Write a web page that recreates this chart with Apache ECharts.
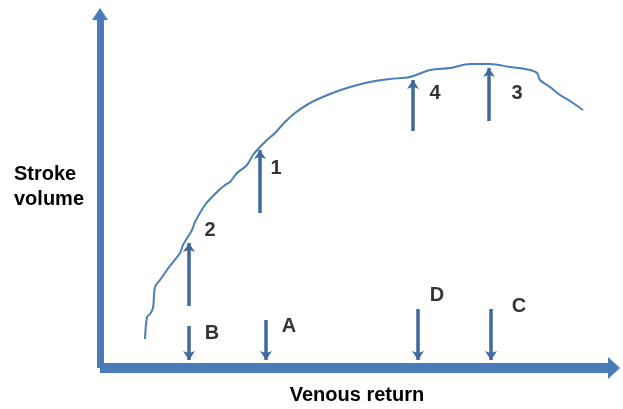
<!DOCTYPE html>
<html>
<head>
<meta charset="utf-8">
<script src="https://cdn.jsdelivr.net/npm/echarts@6/dist/echarts.min.js"></script>
<style>
  html, body { margin: 0; padding: 0; background: #fff; }
  #main { width: 623px; height: 409px; }
</style>
</head>
<body>
<div id="main"></div>
<script>
// curve points (x = venous return, y = stroke volume)
var curveX = [45, 47, 50, 53, 55, 60, 67, 69, 80, 83, 92, 95, 105, 115, 125, 130, 137, 147, 153, 160, 167,
  175, 185, 195, 210, 230, 250, 270, 290, 310, 330, 350, 370, 390, 410, 430, 437, 440, 447, 450, 460, 470, 483]
var curveY = [29, 51, 54, 60, 81, 88, 98, 101, 115, 123, 138, 146, 163, 174, 183, 186, 195, 203, 213, 221, 228,
  235, 246, 255, 265, 274, 281, 286, 289, 291, 298, 300, 304, 304, 301, 298, 295, 288, 283, 281, 273, 267, 258]

// vertical arrows: x, from y, to y
var arrowX = [89, 160, 313, 389, 89, 166, 318, 391]
var arrowFrom = [62, 155, 237, 247, 42, 48, 59, 59]
var arrowTo = [125, 218, 288, 300, 8, 8, 8, 8]

// label marks
var labelText = ['2', 'B', '1', '4', '3', 'D', 'C', 'A']
var labelX = [110, 112, 176, 335, 417, 337, 419, 189]
var labelY = [138, 35, 200, 275, 275, 73, 62, 42]

var chart = echarts.init(document.getElementById('main'))

var font = "'Liberation Sans', Arial, sans-serif"
var axisBlue = '#4a7cba'
var arrowBlue = '#41689c'

chart.setOption({
  backgroundColor: '#ffffff',
  animation: false,
  grid: {
    left: 100,
    right: 9,
    top: 14,
    bottom: 41,
    outerBoundsMode: 'none'
  },
  xAxis: {
    type: 'value',
    min: 0,
    max: 514,
    name: 'Venous return',
    nameLocation: 'middle',
    nameGap: 17,
    nameTextStyle: { fontFamily: font, fontWeight: 'bold', fontSize: 20, color: '#000' },
    axisLine: {
      lineStyle: { color: axisBlue, width: 10, cap: 'butt' },
      symbol: ['none', 'path://M11,0 L22,12 L0,12 Z'],
      symbolSize: [22, 12]
    },
    axisTick: { show: false },
    axisLabel: { show: false },
    splitLine: { show: false }
  },
  yAxis: {
    type: 'value',
    min: 0,
    max: 354,
    axisLine: {
      lineStyle: { color: axisBlue, width: 7, cap: 'butt' },
      symbol: ['none', 'path://M8,0 L16,12 L0,12 Z'],
      symbolSize: [16, 12]
    },
    axisTick: { show: false },
    axisLabel: { show: false },
    splitLine: { show: false }
  },
  graphic: [
    {
      type: 'text',
      left: 14,
      top: 162,
      style: {
        text: 'Stroke\nvolume',
        font: 'bold 20px ' + font,
        lineHeight: 25,
        fill: '#000'
      }
    }
  ],
  series: [
    {
      type: 'line',
      data: curveX.map(function (x, i) { return [x, curveY[i]] }),
      smooth: 0.3,
      showSymbol: false,
      lineStyle: { color: '#4a7ebb', width: 2 }
    },
    {
      type: 'lines',
      coordinateSystem: 'cartesian2d',
      symbol: ['none', 'arrow'],
      symbolSize: 9,
      lineStyle: { color: arrowBlue, width: 3.5, opacity: 1 },
      data: arrowX.map(function (x, i) {
        return { coords: [[x, arrowFrom[i]], [x, arrowTo[i]]] }
      })
    },
    {
      type: 'scatter',
      symbolSize: 1,
      itemStyle: { color: 'rgba(0,0,0,0)' },
      label: {
        show: true,
        position: 'inside',
        formatter: function (p) { return p.value[2] },
        fontFamily: font,
        fontWeight: 'bold',
        fontSize: 20,
        color: '#000'
      },
      data: labelX.map(function (x, i) { return [x, labelY[i], labelText[i]] })
    }
  ]
})
</script>
</body>
</html>
